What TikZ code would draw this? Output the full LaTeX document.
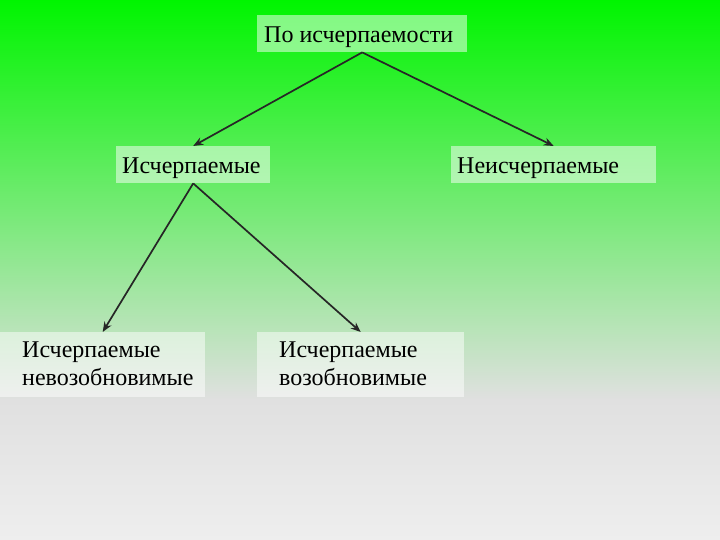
\documentclass[tikz,border=0pt]{standalone}
\usepackage{fontspec}
\setmainfont{Liberation Serif}
\usetikzlibrary{arrows.meta}
\definecolor{topgreen}{RGB}{0,245,0}
\definecolor{midgray}{RGB}{224,224,224}
\definecolor{botgray}{RGB}{238,238,238}
\begin{document}
\begin{tikzpicture}[x=1pt,y=-1pt,
  box/.style={fill=white, fill opacity=0.5, draw=none, inner sep=0pt, anchor=north west},
  txt/.style={inner sep=0pt, font=\fontsize{24}{28}\selectfont, align=left, text=black},
  arr/.style={-{Stealth[length=10pt,width=8pt]}, line width=1.7pt, draw=black!85}]
\useasboundingbox (0,0) rectangle (720,540);
\shade[top color=topgreen, bottom color=midgray] (0,0) rectangle (720,400);
\shade[top color=midgray, bottom color=botgray] (0,399.5) rectangle (720,540);
% boxes
\node[box, minimum width=210, minimum height=37] (top) at (257,15) {};
\node[box, minimum width=154, minimum height=37] (left) at (116,146) {};
\node[box, minimum width=205, minimum height=37] (right) at (451,146) {};
\node[box, minimum width=205, minimum height=65] (bl) at (0,332) {};
\node[box, minimum width=207, minimum height=65] (br) at (257,332) {};
% texts
\node[txt, anchor=base west] (topt) at (264,43) {По исчерпаемости};
\node[txt, anchor=base west] (leftt) at (122,173.5) {Исчерпаемые};
\node[txt, anchor=base west] (rightt) at (457,173.5) {Неисчерпаемые};
\node[txt, anchor=north west] (blt) at (22,342) {Исчерпаемые\\невозобновимые};
\node[txt, anchor=north west] (brt) at (279,342) {Исчерпаемые\\возобновимые};
% arrows
\draw[arr] (top.south) -- (left.north);
\draw[arr] (top.south) -- (right.north);
\draw[arr] (left.south) -- (bl.north);
\draw[arr] (left.south) -- (br.north);
\end{tikzpicture}
\end{document}
